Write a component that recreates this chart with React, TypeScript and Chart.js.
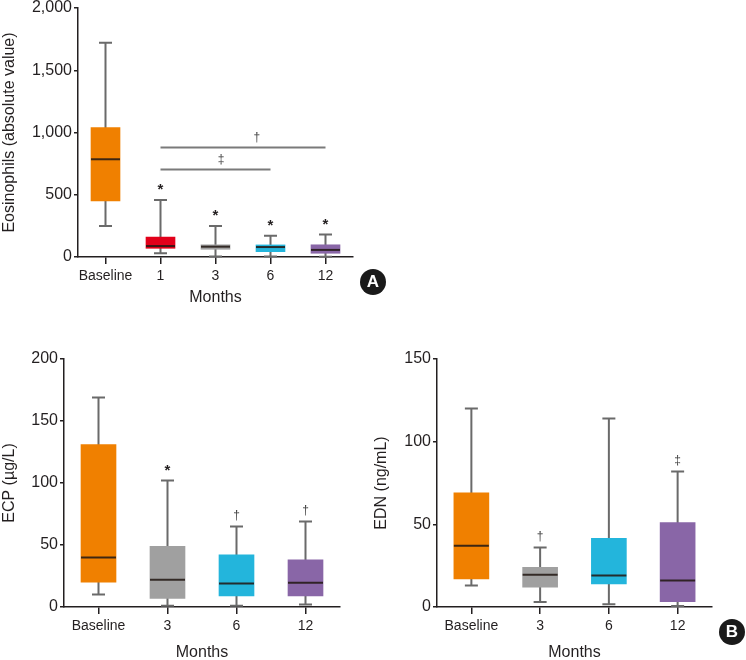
import React, { useEffect, useRef } from 'react';
import { Chart, registerables } from 'chart.js';

Chart.register(...registerables);

const FONT = '"Liberation Sans", Arial, Helvetica, sans-serif';
const INK = '#231f20';
const WHISKER = '#6a6a6a';
const MEDIAN = 'rgba(35,25,20,0.88)';

// ---------- Panel A : Eosinophils ----------
const eosCategories = ['Baseline', '1', '3', '6', '12'];
const eosMin = [250, 30, 5, 5, 2];
const eosQ1 = [450, 70, 62, 43, 30];
const eosMedian = [785, 88, 83, 80, 57];
const eosQ3 = [1040, 160, 98, 97, 98];
const eosMax = [1720, 458, 248, 170, 180];
const eosMarks = ['', '*', '*', '*', '*'];
const eosColors = ['#f08000', '#e2001a', '#a0a0a0', '#23b5dc', '#8966a7'];
const eosTicks = [0, 500, 1000, 1500, 2000];

// significance brackets in panel A
const sigFrom = [1, 1];
const sigTo = [4, 3];
const sigValue = [880, 702];
const sigLabel = ['†', '‡'];
const sigLabelAt = [2.75, 2.1];

// ---------- Panel B : ECP ----------
const ecpCategories = ['Baseline', '3', '6', '12'];
const ecpMin = [10, 1, 1, 2];
const ecpQ1 = [20, 7, 9, 9];
const ecpMedian = [40, 22, 19, 19.5];
const ecpQ3 = [131, 49, 42, 38];
const ecpMax = [169, 102, 65, 69];
const ecpMarks = ['', '*', '†', '†'];
const ecpTicks = [0, 50, 100, 150, 200];

// ---------- Panel B : EDN ----------
const ednCategories = ['Baseline', '3', '6', '12'];
const ednMin = [13, 3, 1.6, 0.6];
const ednQ1 = [17, 12, 14, 3.2];
const ednMedian = [37, 19.5, 19, 16];
const ednQ3 = [69, 24, 41.5, 51];
const ednMax = [120, 36, 114, 82];
const ednMarks = ['', '†', '', '‡'];
const ednTicks = [0, 50, 100, 150];

const colors4 = ['#f08000', '#a0a0a0', '#23b5dc', '#8966a7'];

type PanelSpec = {
  key: string;
  left: number;
  top: number;
  w: number;
  h: number;
  padTop: number;
  padRight: number;
  yWidth: number;
  xHeight: number;
  xTitlePad: number;
  barThickness: number;
  labels: string[];
  min: number[];
  q1: number[];
  med: number[];
  q3: number[];
  max: number[];
  marks: string[];
  colors: string[];
  ticks: number[];
  yTitle: string;
  sig?: boolean;
};

const panels: PanelSpec[] = [
  {
    key: 'eos', left: 0, top: 0, w: 390, h: 310, padTop: 8, padRight: 37,
    yWidth: 78, xHeight: 53, xTitlePad: 3, barThickness: 29,
    labels: eosCategories, min: eosMin, q1: eosQ1, med: eosMedian, q3: eosQ3, max: eosMax,
    marks: eosMarks, colors: eosColors, ticks: eosTicks,
    yTitle: 'Eosinophils (absolute value)', sig: true,
  },
  {
    key: 'ecp', left: 0, top: 320, w: 370, h: 350, padTop: 39, padRight: 30,
    yWidth: 64, xHeight: 63, xTitlePad: 7.7, barThickness: 35,
    labels: ecpCategories, min: ecpMin, q1: ecpQ1, med: ecpMedian, q3: ecpQ3, max: ecpMax,
    marks: ecpMarks, colors: colors4, ticks: ecpTicks, yTitle: 'ECP (µg/L)',
  },
  {
    key: 'edn', left: 372, top: 320, w: 374, h: 350, padTop: 39, padRight: 34,
    yWidth: 65, xHeight: 63, xTitlePad: 7.7, barThickness: 35,
    labels: ednCategories, min: ednMin, q1: ednQ1, med: ednMedian, q3: ednQ3, max: ednMax,
    marks: ednMarks, colors: colors4, ticks: ednTicks, yTitle: 'EDN (ng/mL)',
  },
];

function makeBoxPlugin(p: PanelSpec) {
  const CAP = 13;
  return {
    id: 'boxExtras_' + p.key,
    beforeDatasetsDraw(chart: any) {
      const ctx = chart.ctx;
      const xs = chart.scales.x;
      const ys = chart.scales.y;
      ctx.save();
      ctx.strokeStyle = WHISKER;
      ctx.lineWidth = 2;
      for (let i = 0; i < p.labels.length; i++) {
        const x = xs.getPixelForValue(i);
        const yl = ys.getPixelForValue(p.min[i]);
        const yh = ys.getPixelForValue(p.max[i]);
        ctx.beginPath();
        ctx.moveTo(x, yl);
        ctx.lineTo(x, yh);
        ctx.moveTo(x - CAP / 2, yh);
        ctx.lineTo(x + CAP / 2, yh);
        ctx.moveTo(x - CAP / 2, yl);
        ctx.lineTo(x + CAP / 2, yl);
        ctx.stroke();
      }
      ctx.restore();
    },
    afterDatasetsDraw(chart: any) {
      const ctx = chart.ctx;
      const xs = chart.scales.x;
      const ys = chart.scales.y;
      const meta = chart.getDatasetMeta(0);
      ctx.save();
      // medians
      ctx.strokeStyle = MEDIAN;
      ctx.lineWidth = 2;
      for (let i = 0; i < p.labels.length; i++) {
        const el = meta.data[i];
        const half = el.width / 2;
        const y = ys.getPixelForValue(p.med[i]);
        ctx.beginPath();
        ctx.moveTo(el.x - half, y);
        ctx.lineTo(el.x + half, y);
        ctx.stroke();
      }
      // markers above whiskers
      ctx.textAlign = 'center';
      ctx.textBaseline = 'middle';
      for (let i = 0; i < p.labels.length; i++) {
        const m = p.marks[i];
        if (!m) continue;
        const x = xs.getPixelForValue(i);
        const yh = ys.getPixelForValue(p.max[i]);
        if (m === '*') {
          ctx.fillStyle = INK;
          ctx.font = `bold 15px ${FONT}`;
          ctx.fillText(m, x, yh - 10);
        } else {
          ctx.fillStyle = '#444';
          ctx.font = `12px ${FONT}`;
          ctx.fillText(m, x, yh - 11);
        }
      }
      // significance brackets
      if (p.sig) {
        ctx.strokeStyle = '#7a7a7a';
        ctx.lineWidth = 2;
        for (let k = 0; k < sigFrom.length; k++) {
          const y = ys.getPixelForValue(sigValue[k]);
          ctx.beginPath();
          ctx.moveTo(xs.getPixelForValue(sigFrom[k]), y);
          ctx.lineTo(xs.getPixelForValue(sigTo[k]), y);
          ctx.stroke();
          ctx.fillStyle = '#444';
          ctx.font = `12px ${FONT}`;
          ctx.fillText(sigLabel[k], xs.getPixelForValue(sigLabelAt[k]), y - 10);
        }
      }
      ctx.restore();
    },
  };
}

function BoxChart({ p }: { p: PanelSpec }) {
  const ref = useRef<HTMLCanvasElement>(null);
  useEffect(() => {
    if (!ref.current) return;
    const boxes = p.q1.map((v, i) => [v, p.q3[i]]);
    const chart = new Chart(ref.current, {
      type: 'bar',
      data: {
        labels: p.labels,
        datasets: [
          {
            data: boxes as any,
            backgroundColor: p.colors,
            borderWidth: 0,
            borderSkipped: false,
            barThickness: p.barThickness,
          },
        ],
      },
      options: {
        responsive: false,
        animation: false,
        devicePixelRatio: 1,
        layout: { padding: { top: p.padTop, right: p.padRight, left: 0, bottom: 0 } },
        plugins: { legend: { display: false }, tooltip: { enabled: false } },
        scales: {
          x: {
            offset: true,
            grid: {
              display: true,
              drawOnChartArea: false,
              drawTicks: true,
              tickLength: 7,
              offset: false,
              color: INK,
              lineWidth: 1.5,
            },
            border: { display: true, color: INK, width: 1.5 },
            ticks: {
              color: INK,
              font: { family: FONT, size: 14 },
              padding: 4,
              maxRotation: 0,
              autoSkip: false,
            },
            title: {
              display: true,
              text: 'Months',
              color: INK,
              font: { family: FONT, size: 16, lineHeight: 1.2 },
              padding: { top: 0, bottom: p.xTitlePad },
            },
            afterFit: (s: any) => {
              s.height = p.xHeight;
              s.paddingLeft = 0;
              s.paddingRight = 0;
            },
          },
          y: {
            min: 0,
            max: p.ticks[p.ticks.length - 1],
            afterBuildTicks: (s: any) => {
              s.ticks = p.ticks.map((v) => ({ value: v }));
            },
            grid: {
              display: true,
              drawOnChartArea: false,
              drawTicks: true,
              tickLength: 4,
              color: INK,
              lineWidth: 1.5,
            },
            border: { display: true, color: INK, width: 1.5 },
            ticks: {
              color: INK,
              font: { family: FONT, size: 16 },
              padding: 2,
              callback: (v: any) => Number(v).toLocaleString('en-US'),
            },
            title: {
              display: true,
              text: p.yTitle,
              color: INK,
              font: { family: FONT, size: 16, lineHeight: 1.2 },
              padding: { top: 0, bottom: 0 },
            },
            afterFit: (s: any) => {
              s.width = p.yWidth;
              s.paddingTop = 0;
              s.paddingBottom = 0;
            },
          },
        },
      },
      plugins: [makeBoxPlugin(p)],
    });
    return () => chart.destroy();
  }, [p]);
  return (
    <canvas
      ref={ref}
      width={p.w}
      height={p.h}
      style={{ position: 'absolute', left: p.left, top: p.top, width: p.w, height: p.h }}
    />
  );
}

function Badge({ letter, x, y }: { letter: string; x: number; y: number }) {
  const r = 13;
  return (
    <div
      style={{
        position: 'absolute',
        left: x - r,
        top: y - r,
        width: 2 * r,
        height: 2 * r,
        borderRadius: '50%',
        background: '#1a1a1a',
        color: '#fff',
        fontFamily: FONT,
        fontWeight: 'bold',
        fontSize: 17,
        lineHeight: `${2 * r}px`,
        textAlign: 'center',
      }}
    >
      {letter}
    </div>
  );
}

export default function App() {
  return (
    <div
      style={{
        position: 'absolute',
        left: 0,
        top: 0,
        width: 746,
        height: 660,
        overflow: 'hidden',
        background: '#fff',
      }}
    >
      {panels.map((p) => (
        <BoxChart key={p.key} p={p} />
      ))}
      <Badge letter="A" x={373} y={282} />
      <Badge letter="B" x={732} y={632} />
    </div>
  );
}
